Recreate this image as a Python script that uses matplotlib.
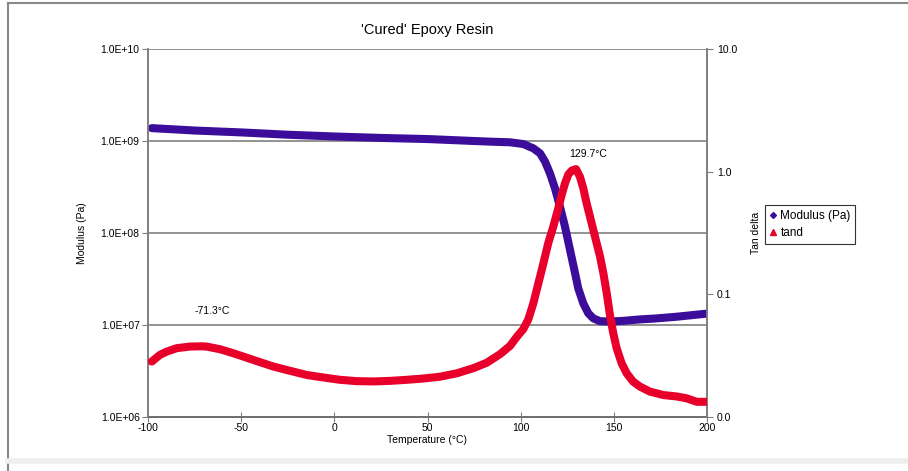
import numpy as np
import matplotlib.pyplot as plt
from matplotlib.lines import Line2D
from matplotlib.ticker import FixedLocator, FixedFormatter

plt.rcParams['font.family'] = ['Liberation Sans', 'DejaVu Sans']
plt.rcParams['axes.unicode_minus'] = False

# Storage modulus (Pa) vs temperature
temp_mod = [-98, -75, -50, -25, 0, 25, 50, 75, 83.5, 94.3, 101.4, 106.8, 110.4, 113.1,
            115.7, 118.4, 121.1, 123.8, 126.5, 129.2, 130.9, 133.6, 136.3, 139.0,
            142.6, 148.0, 155.1, 164.0, 173.0, 183.7, 200]
modulus = [1.38e9, 1.30e9, 1.24e9, 1.17e9, 1.12e9, 1.08e9, 1.05e9, 1.0e9, 9.84e8,
           9.68e8, 9.27e8, 8.32e8, 7.35e8, 5.96e8, 4.46e8, 3.06e8, 1.93e8, 1.17e8,
           6.53e7, 3.65e7, 2.50e7, 1.72e7, 1.34e7, 1.18e7, 1.10e7, 1.09e7, 1.11e7,
           1.15e7, 1.18e7, 1.23e7, 1.33e7]

# tan delta vs temperature
temp_tan = [-98.0, -93.6, -90.0, -84.6, -77.5, -71.3, -68.5, -61.4, -54.2, -43.5, -32.8,
            -23.8, -14.8, -5.9, 3.0, 12.0, 20.9, 29.9, 38.8, 47.8, 56.7, 65.7, 74.6,
            81.8, 88.9, 94.3, 98.0, 101.4, 104.1, 106.8, 109.5, 112.2, 114.8, 117.5,
            120.2, 122.0, 123.8, 125.6, 127.4, 129.7, 131.8, 133.6, 135.4, 137.2,
            139.9, 142.6, 144.4, 146.2, 147.9, 149.7, 151.5, 154.2, 156.9, 160.4,
            164.0, 169.4, 176.6, 183.7, 189.1, 194.5, 200]
tan_delta = [0.0283, 0.0321, 0.0341, 0.0364, 0.0375, 0.0377, 0.0375, 0.0357, 0.0331,
             0.0292, 0.0258, 0.0238, 0.0220, 0.0210, 0.0201, 0.0196, 0.0195, 0.0197,
             0.0201, 0.0206, 0.0213, 0.0227, 0.0250, 0.0277, 0.0325, 0.0380, 0.0452,
             0.0520, 0.0625, 0.0845, 0.123, 0.179, 0.261, 0.356, 0.504, 0.646, 0.804,
             0.950, 1.02, 1.05, 0.91, 0.733, 0.552, 0.430, 0.295, 0.203, 0.148, 0.102,
             0.0679, 0.0482, 0.0364, 0.0274, 0.0227, 0.0194, 0.0177, 0.0161, 0.0151,
             0.0147, 0.0142, 0.0133, 0.0133]

peaks = [(-71.3, 0.0377, '-71.3°C'), (129.7, 1.05, '129.7°C')]

purple = '#3b0d9a'
red = '#e8002a'
grey = '#7f7f7f'
fs = 7.5

fig = plt.figure(figsize=(9.08, 4.71), dpi=100)
ax = fig.add_axes([148/908, 54/471, 559/908, 368/471])
ax2 = ax.twinx()

ax.plot(temp_mod, modulus, color=purple, lw=5.8, solid_capstyle='round',
        solid_joinstyle='round', zorder=3)
ax2.plot(temp_tan, tan_delta, color=red, lw=5.8, solid_capstyle='round',
         solid_joinstyle='round', zorder=3)

ax.set_yscale('log')
ax.set_ylim(1e6, 1e10)
ax.set_xlim(-100, 200)
ax2.set_yscale('log')
ax2.set_ylim(0.01, 10)

ax.yaxis.set_major_locator(FixedLocator([1e6, 1e7, 1e8, 1e9, 1e10]))
ax.yaxis.set_major_formatter(FixedFormatter(['1.0E+06', '1.0E+07', '1.0E+08', '1.0E+09', '1.0E+10']))
ax.yaxis.set_minor_locator(FixedLocator([]))
ax2.yaxis.set_major_locator(FixedLocator([0.01, 0.1, 1, 10]))
ax2.yaxis.set_major_formatter(FixedFormatter(['0.0', '0.1', '1.0', '10.0']))
ax2.yaxis.set_minor_locator(FixedLocator([]))
ax.set_xticks([-100, -50, 0, 50, 100, 150, 200])

for y in [1e7, 1e8, 1e9, 1e10]:
    ax.axhline(y, color=grey, lw=1.2, zorder=1)

for a in (ax, ax2):
    for s in a.spines.values():
        s.set_color(grey)
        s.set_linewidth(1.2)
    a.spines['top'].set_visible(False)
ax.spines['bottom'].set_color('black')

ax.tick_params(axis='y', labelsize=fs, length=4, color=grey, pad=2)
ax.tick_params(axis='x', labelsize=fs, direction='inout', length=7, color=grey, pad=1)
ax2.tick_params(axis='y', labelsize=fs, length=4, color=grey, pad=3)

ax.set_title("'Cured' Epoxy Resin", fontsize=10.5, pad=11)
ax.set_xlabel('Temperature (°C)', fontsize=fs, labelpad=1)
ax.set_ylabel('Modulus (Pa)', fontsize=fs, labelpad=10)
ax2.set_ylabel('Tan delta', fontsize=fs, labelpad=10)

ax2.annotate(peaks[1][2], xy=(peaks[1][0], peaks[1][1]), xytext=(9, 7),
             textcoords='offset points', ha='center', va='bottom', fontsize=fs)
ax2.annotate(peaks[0][2], xy=(peaks[0][0], peaks[0][1]), xytext=(8, 22),
             textcoords='offset points', ha='center', va='bottom', fontsize=fs)

handles = [Line2D([], [], color=purple, marker='D', ls='none', ms=3),
           Line2D([], [], color=red, marker='^', ls='none', ms=3.8)]
leg = fig.legend(handles, ['Modulus (Pa)', 'tand'], loc='upper left',
                 bbox_to_anchor=(765/908, 1 - 205/471), fontsize=8.5, frameon=True,
                 fancybox=False, handlelength=0.6, handletextpad=0.3, borderpad=0.4,
                 labelspacing=0.45, borderaxespad=0)
leg.get_frame().set_edgecolor('black')
leg.get_frame().set_linewidth(0.8)

# outer chart frame
fig.add_artist(Line2D([8/908, 8/908], [0, 1 - 3/471], color='#888888', lw=1.5))
fig.add_artist(Line2D([8/908, 1], [1 - 3/471, 1 - 3/471], color='#888888', lw=1.5))
fig.add_artist(Line2D([8/908, 1], [10/471, 10/471], color='#eeeeee', lw=4))

fig.savefig('out.png', dpi=100)
